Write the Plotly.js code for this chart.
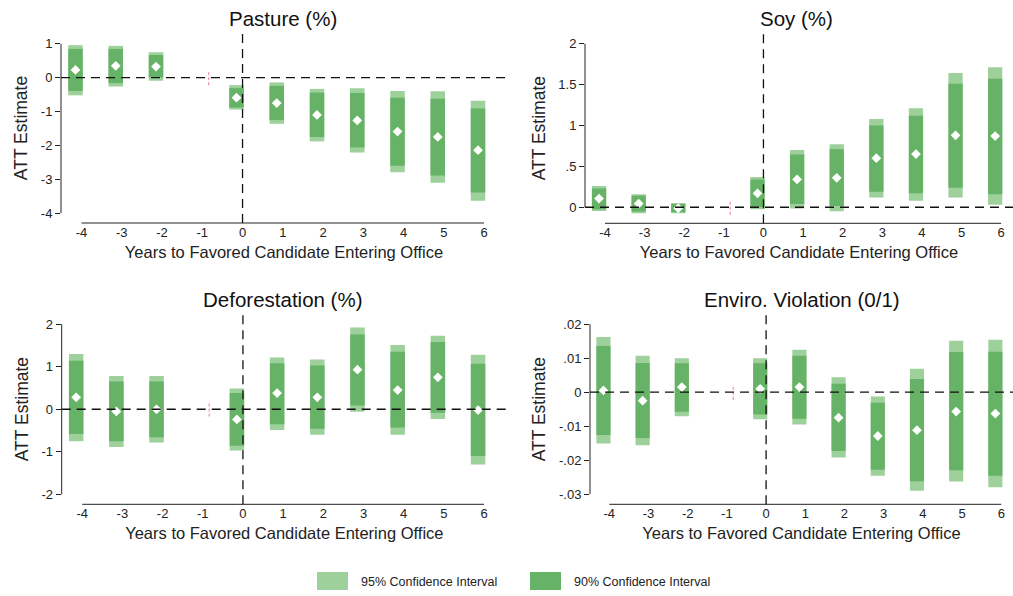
<!DOCTYPE html>
<html><head><meta charset="utf-8">
<script src="https://cdn.plot.ly/plotly-3.0.1.min.js"></script>
<style>html,body{margin:0;padding:0;background:#fff}#chart{width:1013px;height:596px}</style>
</head><body><div id="chart"></div>
<script>
const years = [-4, -3, -2, 0, 1, 2, 3, 4, 5, 6];
const refYear = -1;
const xTicks = [-4, -3, -2, -1, 0, 1, 2, 3, 4, 5, 6];

const titles = ["Pasture (%)", "Soy (%)", "Deforestation (%)", "Enviro. Violation (0/1)"];

// Pasture
const pastureEst  = [0.23, 0.35, 0.33, -0.59, -0.75, -1.10, -1.26, -1.59, -1.75, -2.14];
const pastureLo90 = [-0.39, -0.16, 0.01, -0.88, -1.25, -1.75, -2.06, -2.60, -2.89, -3.39];
const pastureHi90 = [0.85, 0.85, 0.67, -0.31, -0.24, -0.44, -0.45, -0.59, -0.62, -0.91];
const pastureLo95 = [-0.52, -0.26, -0.09, -0.94, -1.36, -1.88, -2.21, -2.79, -3.10, -3.63];
const pastureHi95 = [0.96, 0.94, 0.75, -0.22, -0.14, -0.33, -0.31, -0.39, -0.40, -0.68];

// Soy
const soyEst  = [0.106, 0.045, -0.012, 0.17, 0.34, 0.36, 0.60, 0.65, 0.88, 0.87];
const soyLo90 = [-0.024, -0.053, -0.06, 0.004, 0.04, 0.016, 0.19, 0.17, 0.24, 0.16];
const soyHi90 = [0.23, 0.14, 0.04, 0.34, 0.645, 0.71, 1.00, 1.12, 1.51, 1.57];
const soyLo95 = [-0.045, -0.073, -0.073, -0.024, -0.016, -0.05, 0.12, 0.08, 0.12, 0.03];
const soyHi95 = [0.26, 0.16, 0.053, 0.37, 0.70, 0.77, 1.08, 1.21, 1.64, 1.71];

// Deforestation
const defEst  = [0.28, -0.05, 0.00, -0.24, 0.38, 0.28, 0.93, 0.45, 0.75, -0.02];
const defLo90 = [-0.58, -0.75, -0.66, -0.86, -0.35, -0.46, 0.09, -0.43, -0.08, -1.10];
const defHi90 = [1.14, 0.65, 0.65, 0.38, 1.08, 1.03, 1.76, 1.35, 1.58, 1.07];
const defLo95 = [-0.75, -0.89, -0.78, -0.97, -0.49, -0.60, -0.06, -0.60, -0.23, -1.30];
const defHi95 = [1.30, 0.78, 0.78, 0.49, 1.22, 1.17, 1.92, 1.51, 1.73, 1.28];

// Enviro. Violation
const envEst  = [0.0005, -0.0025, 0.0015, 0.0010, 0.0015, -0.0075, -0.0129, -0.0112, -0.0057, -0.0063];
const envLo90 = [-0.0126, -0.0135, -0.0058, -0.0066, -0.0078, -0.0173, -0.0228, -0.0262, -0.0230, -0.0246];
const envHi90 = [0.0136, 0.0086, 0.0085, 0.0085, 0.0107, 0.0025, -0.0031, 0.0039, 0.0118, 0.0119];
const envLo95 = [-0.0151, -0.0156, -0.0071, -0.0080, -0.0095, -0.0192, -0.0246, -0.0290, -0.0263, -0.0280];
const envHi95 = [0.0162, 0.0107, 0.0100, 0.0100, 0.0125, 0.0044, -0.0013, 0.0069, 0.0151, 0.0154];

const yTicks = [
  [1, 0, -1, -2, -3, -4],
  [0, 0.5, 1, 1.5, 2],
  [2, 1, 0, -1, -2],
  [0.02, 0.01, 0, -0.01, -0.02, -0.03]
];
const yTickText = [
  ["1", "0", "-1", "-2", "-3", "-4"],
  ["0", ".5", "1", "1.5", "2"],
  ["2", "1", "0", "-1", "-2"],
  [".02", ".01", "0", "-.01", "-.02", "-.03"]
];
const refHalf = [0.22, 0.09, 0.17, 0.0022];

const panels = [
  {est: pastureEst, lo90: pastureLo90, hi90: pastureHi90, lo95: pastureLo95, hi95: pastureHi95},
  {est: soyEst, lo90: soyLo90, hi90: soyHi90, lo95: soyLo95, hi95: soyHi95},
  {est: defEst, lo90: defLo90, hi90: defHi90, lo95: defLo95, hi95: defHi95},
  {est: envEst, lo90: envLo90, hi90: envHi90, lo95: envLo95, hi95: envHi95}
];

// layout geometry (pixels)
const W = 1013, H = 596;
const boxes = [
  {l: 61, r: 507, t: 33, b: 223, xr: [-4.51, 6.57], yr: [-4.29, 1.32], tc: 283},
  {l: 585, r: 1013, t: 33, b: 223.3, xr: [-4.505, 6.30], yr: [-0.196, 2.13], tc: 796},
  {l: 61.7, r: 507, t: 314, b: 504.3, xr: [-4.51, 6.57], yr: [-2.235, 2.24], tc: 283},
  {l: 590, r: 1013, t: 314, b: 504.3, xr: [-4.493, 6.30], yr: [-0.033, 0.023], tc: 802}
];

const C95 = "#9dd09a", C90 = "#66b266";
const SHIFT = -0.15, REFSHIFT = 0.16, BW = 0.36;
const font = "Liberation Sans, Arial, sans-serif";

const traces = [];
const layout = {
  width: W, height: H, margin: {l: 0, r: 0, t: 0, b: 0},
  paper_bgcolor: "#fff", plot_bgcolor: "#fff",
  showlegend: false, barmode: "overlay",
  font: {family: font, color: "#222"},
  shapes: [], annotations: []
};

panels.forEach((p, i) => {
  const n = i + 1;
  const xa = n === 1 ? "x" : "x" + n, ya = n === 1 ? "y" : "y" + n;
  const xs = years.map(v => v + SHIFT);
  traces.push({type: "bar", x: xs, base: p.lo95, y: p.hi95.map((h, k) => h - p.lo95[k]), width: BW,
    marker: {color: C95, line: {width: 0}}, xaxis: xa, yaxis: ya, hoverinfo: "skip"});
  traces.push({type: "bar", x: xs, base: p.lo90, y: p.hi90.map((h, k) => h - p.lo90[k]), width: BW,
    marker: {color: C90, line: {width: 0}}, xaxis: xa, yaxis: ya, hoverinfo: "skip"});
  traces.push({type: "scatter", mode: "markers", x: xs, y: p.est,
    marker: {symbol: "diamond", size: 7.5, color: "#fff"}, xaxis: xa, yaxis: ya, cliponaxis: false});
  // reference period mark
  traces.push({type: "scatter", mode: "lines", x: [refYear + REFSHIFT, refYear + REFSHIFT], y: [-refHalf[i], refHalf[i]],
    line: {color: "#f08caa", width: 1.2, dash: "3px,2px"}, xaxis: xa, yaxis: ya, hoverinfo: "skip"});

  const b = boxes[i];
  const axKey = n === 1 ? "xaxis" : "xaxis" + n, ayKey = n === 1 ? "yaxis" : "yaxis" + n;
  layout[axKey] = {
    domain: [b.l / W, b.r / W], range: b.xr, anchor: ya,
    tickmode: "array", tickvals: xTicks, ticktext: xTicks.map(String),
    ticks: "", showgrid: false, zeroline: false, showline: false,
    tickfont: {size: 13, family: font, color: "#222"},
    title: {text: "Years to Favored Candidate Entering Office", font: {size: 16.5, family: font, color: "#222"}, standoff: 7}
  };
  layout[ayKey] = {
    domain: [1 - b.b / H, 1 - b.t / H], range: b.yr, anchor: xa,
    tickmode: "array", tickvals: yTicks[i], ticktext: yTickText[i],
    ticks: "outside", ticklen: 5, tickcolor: "#222", tickwidth: 1,
    showgrid: false, zeroline: false, showline: false,
    tickfont: {size: 13, family: font, color: "#222"},
    title: {text: "ATT Estimate", font: {size: 17.5, family: font, color: "#222"}, standoff: 8}
  };
  const yMin = Math.min(...yTicks[i]), yMax = Math.max(...yTicks[i]);
  const xMin = Math.min(...xTicks), xMax = Math.max(...xTicks);
  layout.shapes.push({type: "line", xref: xa + " domain", yref: ya, x0: 0, x1: 0, y0: yMin, y1: yMax,
    line: {color: "#222", width: 1}});
  layout.shapes.push({type: "line", xref: xa, yref: ya + " domain", x0: xMin, x1: xMax, y0: 0, y1: 0,
    line: {color: "#222", width: 1}});
  layout.shapes.push({type: "line", xref: xa + " domain", yref: ya, x0: 0, x1: 1, y0: 0, y1: 0,
    line: {color: "#111", width: 1.3, dash: "9px,6px"}, layer: "above"});
  layout.shapes.push({type: "line", xref: xa, yref: ya + " domain", x0: 0, x1: 0, y0: 0, y1: 1,
    line: {color: "#111", width: 1.3, dash: "9px,6px"}, layer: "above"});
  layout.annotations.push({xref: "paper", yref: "paper", x: b.tc / W,
    y: 1 - (b.t - 15) / H, text: titles[i], showarrow: false,
    font: {size: 20.5, family: font, color: "#111"}, xanchor: "center", yanchor: "middle"});
});

const legendItems = [
  {label: "95% Confidence Interval", color: C95, x: 317},
  {label: "90% Confidence Interval", color: C90, x: 530}
];
legendItems.forEach(it => {
  layout.shapes.push({type: "rect", xref: "paper", yref: "paper",
    x0: it.x / W, x1: (it.x + 31) / W, y0: 1 - 590 / H, y1: 1 - 572 / H,
    fillcolor: it.color, line: {width: 0}});
  layout.annotations.push({xref: "paper", yref: "paper", x: (it.x + 42) / W, y: 1 - 582 / H,
    text: it.label, showarrow: false, xanchor: "left", yanchor: "middle",
    font: {size: 12.5, family: font, color: "#222"}});
});

Plotly.newPlot("chart", traces, layout, {staticPlot: true, displayModeBar: false});
</script></body></html>
